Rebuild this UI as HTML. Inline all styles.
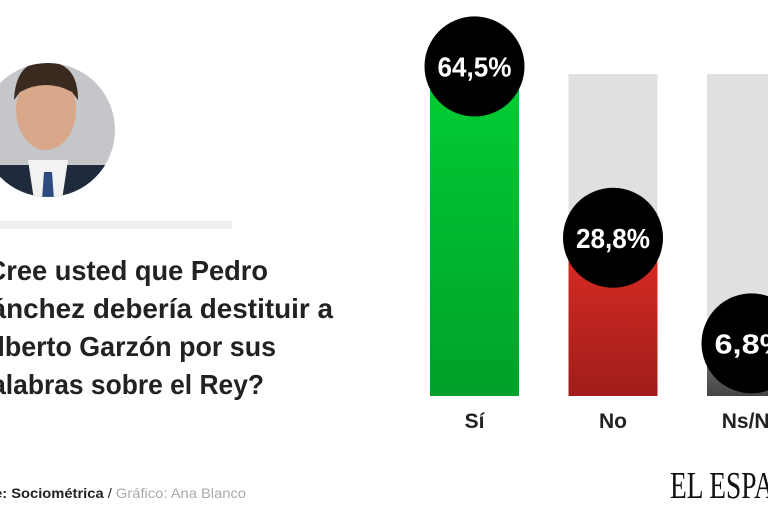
<!DOCTYPE html>
<html><head><meta charset="utf-8"><style>
body{margin:0;background:#fff;width:768px;height:512px;overflow:hidden}
svg{display:block;font-family:"Liberation Sans",sans-serif}
</style></head><body>
<svg id="c" width="768" height="512">
<defs>
<linearGradient id="gG" x1="0" y1="0" x2="0" y2="1"><stop offset="0" stop-color="#00cc33"/><stop offset="1" stop-color="#00a02a"/></linearGradient>
<linearGradient id="gR" x1="0" y1="0" x2="0" y2="1"><stop offset="0" stop-color="#d52a22"/><stop offset="1" stop-color="#a01d1b"/></linearGradient>
<linearGradient id="gK" x1="0" y1="0" x2="0" y2="1"><stop offset="0" stop-color="#666"/><stop offset="1" stop-color="#444"/></linearGradient>
<clipPath id="pc"><circle cx="48" cy="130" r="67"/></clipPath>
</defs>
<g clip-path="url(#pc)">
<rect x="-20" y="60" width="140" height="140" fill="#c4c6c9"/>
<rect x="-20" y="165" width="140" height="40" fill="#1f2a3d"/>
<polygon points="28,160 68,160 62,200 34,200" fill="#f2f2f2"/>
<polygon points="44,172 52,172 54,200 42,200" fill="#2d4a80"/>
<ellipse cx="46" cy="110" rx="30" ry="40" fill="#d9a88a"/>
<path d="M14,100 Q16,60 46,62 Q78,62 78,100 L72,92 Q46,78 20,92 Z" fill="#3a2a20"/>
</g>
<rect x="0" y="221" width="232" height="8" fill="#efefef"/>
<g font-weight="bold" font-size="28" fill="#222" text-anchor="end">
<text x="268" y="280" textLength="298" lengthAdjust="spacingAndGlyphs">¿Cree usted que Pedro</text>
<text x="333" y="318" textLength="361" lengthAdjust="spacingAndGlyphs">Sánchez debería destituir a</text>
<text x="276" y="356" textLength="298" lengthAdjust="spacingAndGlyphs">Alberto Garzón por sus</text>
<text x="264" y="394" textLength="289" lengthAdjust="spacingAndGlyphs">palabras sobre el Rey?</text>
</g>
<text x="246" y="498" font-size="14" text-anchor="end" textLength="292" lengthAdjust="spacingAndGlyphs"><tspan fill="#222" font-weight="bold">Fuente: Sociométrica</tspan><tspan fill="#222"> / </tspan><tspan fill="#aaa">Gráfico: Ana Blanco</tspan></text>
<text x="670" y="498" font-family="Liberation Serif,serif" font-size="38" fill="#111" textLength="160" lengthAdjust="spacingAndGlyphs">EL ESPAÑOL</text>
<g id="bars"></g>
</svg>
<script>
const categories=["Sí","No","Ns/Nc"];
const values=[64.5,28.8,6.8];
const labels=["64,5%","28,8%","6,8%"];
const fills=["url(#gG)","url(#gR)","url(#gK)"];
const NS="http://www.w3.org/2000/svg";
const bottom=396, ppu=4.8, bw=89;
function xPos(i){return 430+i*138.5;}
function yPos(v){return bottom-v*ppu;}
const g=document.getElementById('bars');
function mk(t,a){const e=document.createElementNS(NS,t);for(const k in a)e.setAttribute(k,a[k]);g.appendChild(e);return e;}
categories.forEach((c,i)=>{
  const x=xPos(i), y=yPos(values[i]);
  const bg=mk('rect',{x:x,y:74,width:bw,height:bottom-74,fill:'#e0e0e0'});
  
  
  if(i===0) bg.setAttribute('fill','none');
  const r=mk('rect',{x:x,y:y,width:bw,height:bottom-y,fill:fills[i]});
  
  
  const cy=y-20;
  const ci=mk('circle',{cx:x+bw/2,cy:cy,r:50,fill:'#000'});
  
  
  const t=mk('text',{x:x+bw/2,y:cy+10,'text-anchor':'middle','font-size':28,'font-weight':'bold',fill:'#fff',textLength:74,lengthAdjust:'spacingAndGlyphs'});
  t.textContent=labels[i];
  
  
  const l=mk('text',{x:x+bw/2,y:428,'text-anchor':'middle','font-size':21,'font-weight':'bold',fill:'#222'});
  l.textContent=c;
  
  
});
</script>
</body></html>
